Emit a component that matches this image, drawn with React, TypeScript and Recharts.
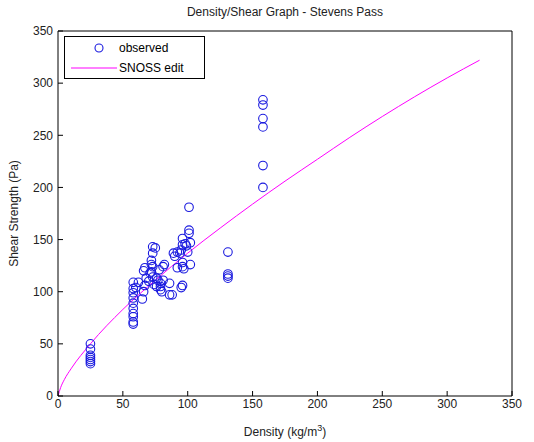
import React from "react";
import {
  ComposedChart,
  Scatter,
  Line,
  XAxis,
  YAxis,
  Label,
} from "recharts";

// observed density (kg/m3) and shear strength (Pa)
const densityObs = [
  25, 25, 25, 25, 25, 25, 25,
  58, 58, 58, 58, 58, 58, 58, 58, 58, 58,
  65, 66, 67, 68, 67, 66, 62, 60,
  71, 72, 73, 75, 73, 72, 73, 72, 70, 73, 74,
  77, 79, 76, 79, 78, 81, 76, 81, 80, 79,
  82, 86, 86, 88, 89, 90, 92, 92,
  94, 96, 96, 96, 96, 96, 95, 100, 101, 101, 102, 102, 101, 97, 95, 98, 99,
  131, 131, 131, 131,
  158, 158, 158, 158, 158, 158,
];
const shearObs = [
  50, 45, 39, 37, 35, 33, 31,
  109, 103, 99, 94, 89, 84, 79, 76, 71, 69,
  93, 100, 106, 113, 123, 120, 109, 104,
  118, 130, 137, 142, 124, 119, 114, 126, 110, 143, 107,
  111, 108, 105, 102, 121, 124, 113, 111, 100, 105,
  126, 108, 97, 97, 137, 134, 138, 123,
  137, 151, 145, 128, 124, 106, 104, 138, 159, 156, 147, 126, 181, 122, 140, 146, 144,
  138, 117, 115, 113,
  284, 279, 266, 258, 221, 200,
];

// SNOSS edit curve
const densityFit = [0, 2, 5, 10, 25, 50, 75, 100, 125, 150, 175, 200, 225, 250, 275, 300, 325];
const shearFit = [0, 8, 16, 26, 50, 83, 111, 137, 161, 184, 206, 227, 248, 268, 287, 305, 322];

const ticks = [0, 50, 100, 150, 200, 250, 300, 350];

const observed = densityObs.map((d, i) => ({ x: d, y: shearObs[i] }));
const fit = densityFit.map((d, i) => ({ x: d, y: shearFit[i] }));

const FONT = "'Liberation Sans', Arial, sans-serif";
const tickStyle = { fontSize: 12, fill: "#222", fontFamily: FONT };

const OpenCircle = (props: any) => (
  <circle cx={props.cx} cy={props.cy} r={4.3} fill="none" stroke="#1a1adf" strokeWidth={1.1} />
);

const LegendBox = () => (
  <div
    style={{
      position: "absolute",
      left: 64,
      top: 36,
      width: 141,
      height: 43,
      border: "1px solid #000",
      background: "#fff",
      fontFamily: FONT,
      fontSize: 12,
      color: "#000",
      boxSizing: "border-box",
      paddingTop: 1,
    }}
  >
    <div style={{ display: "flex", alignItems: "center", height: 20 }}>
      <svg width={54} height={20}>
        <circle cx={34} cy={10} r={4} fill="none" stroke="#1a1adf" strokeWidth={1.1} />
      </svg>
      <span>observed</span>
    </div>
    <div style={{ display: "flex", alignItems: "center", height: 20 }}>
      <svg width={54} height={20}>
        <line x1={6} x2={52} y1={10} y2={10} stroke="#ff00ff" strokeWidth={1} />
      </svg>
      <span>SNOSS edit</span>
    </div>
  </div>
);

const XLabel = (props: any) => {
  const vb = props.viewBox;
  return (
    <text
      x={vb.x + vb.width / 2}
      y={vb.y + 40}
      textAnchor="middle"
      fontSize={12}
      fontFamily={FONT}
      fill="#222"
    >
      Density (kg/m
      <tspan dy={-5} fontSize={9}>3</tspan>
      <tspan dy={5}>)</tspan>
    </text>
  );
};

export default function App() {
  return (
    <div style={{ position: "absolute", left: 0, top: 0, background: "#fff" }}>
      <ComposedChart
        width={534}
        height={442}
        margin={{ top: 30, right: 21, bottom: 0, left: 0 }}
      >
        <text x={285} y={16} textAnchor="middle" fontSize={12} fontFamily={FONT} fill="#222">
          Density/Shear Graph - Stevens Pass
        </text>
        <XAxis
          xAxisId="b"
          dataKey="x"
          type="number"
          domain={[0, 350]}
          ticks={ticks}
          allowDataOverflow
          height={46}
          stroke="#000"
          tickSize={-5}
          tickMargin={8}
          tick={tickStyle}
        >
          <Label content={XLabel} />
        </XAxis>
        <XAxis
          xAxisId="t"
          orientation="top"
          dataKey="x"
          type="number"
          domain={[0, 350]}
          ticks={ticks}
          allowDataOverflow
          height={1}
          stroke="#000"
          tickSize={-5}
          tick={false}
        />
        <YAxis
          yAxisId="l"
          dataKey="y"
          type="number"
          domain={[0, 350]}
          ticks={ticks}
          allowDataOverflow
          width={58}
          stroke="#000"
          tickSize={-5}
          tickMargin={10}
          tick={tickStyle}
        >
          <Label
            value="Shear Strength (Pa)"
            angle={-90}
            position="insideLeft"
            offset={14}
            style={{ textAnchor: "middle", fontSize: 12, fontFamily: FONT, fill: "#222" }}
          />
        </YAxis>
        <YAxis
          yAxisId="r"
          orientation="right"
          dataKey="y"
          type="number"
          domain={[0, 350]}
          ticks={ticks}
          allowDataOverflow
          width={1}
          stroke="#000"
          tickSize={-5}
          tick={false}
        />
        <Line
          xAxisId="t"
          yAxisId="r"
          data={fit}
          dataKey="y"
          stroke="none"
          dot={false}
          activeDot={false}
          legendType="none"
          isAnimationActive={false}
        />
        <Line
          xAxisId="b"
          yAxisId="l"
          data={fit}
          dataKey="y"
          type="monotone"
          stroke="#ff00ff"
          strokeWidth={1}
          dot={false}
          isAnimationActive={false}
        />
        <Scatter
          xAxisId="b"
          yAxisId="l"
          data={observed}
          dataKey="y"
          shape={OpenCircle}
          isAnimationActive={false}
        />
      </ComposedChart>
      <LegendBox />
    </div>
  );
}
